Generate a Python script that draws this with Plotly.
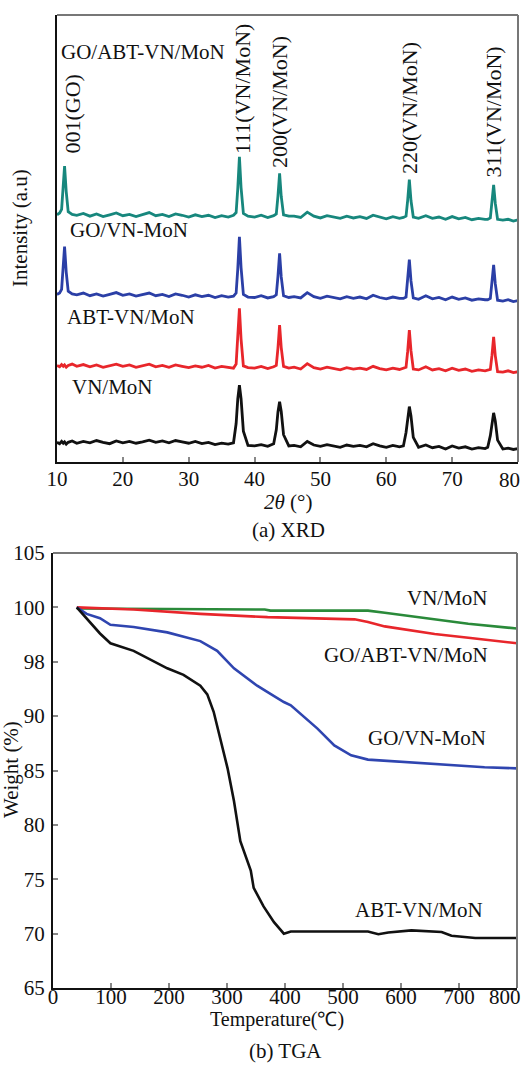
import plotly.graph_objects as go

W, H = 527, 1068
FONT = "Liberation Serif, Times New Roman, serif"

# ---------------- (a) XRD data ----------------
two_theta = [
    10, 10.4, 10.7, 10.95, 11.15, 11.4, 11.7, 12.3,
    13, 14, 15, 16, 17, 18, 19, 20, 21, 22, 23, 24, 25, 26, 27, 28, 29, 30, 31, 32, 33, 34, 35, 36,
    36.8, 37.2, 37.45, 37.7, 37.95, 38.3, 39,
    40, 41, 42,
    42.9, 43.3, 43.55, 43.8, 44.05, 44.4, 45.2,
    46, 47, 48, 49, 50, 51, 52, 53, 54, 55, 56, 57, 58, 59, 60, 61, 62,
    62.6, 63.0, 63.25, 63.5, 63.75, 64.1, 64.9,
    66, 67, 68, 69, 70, 71, 72, 73, 74, 75,
    75.4, 75.8, 76.05, 76.3, 76.55, 76.9, 77.7,
    78.5, 79.3, 80,
]

xrd_vn_mon = [
    4.4, 4.1, 4.6, 4.2, 4.5, 4.0, 4.4, 4.7,
    4.2, 4.6, 4.3, 4.8, 4.4, 4.1, 4.7, 4.3, 4.6, 4.2, 4.5, 4.9, 4.4, 4.7, 4.3, 4.8, 4.5, 4.2, 4.6, 4.1, 4.4, 3.9, 4.2, 4.0,
    4.3, 8.6, 14.1, 17.2, 14.2, 6.9, 3.7,
    3.6, 3.9, 3.5,
    4.1, 7.2, 11.2, 13.5, 11.3, 6.1, 3.6,
    3.7, 3.4, 4.6, 3.8, 3.5, 3.9, 3.6, 3.3, 3.8, 3.5, 3.7, 3.4, 4.1, 3.6, 3.3, 3.7, 3.4,
    3.6, 6.6, 10.3, 12.4, 10.3, 5.5, 3.3,
    3.8, 3.2, 3.5, 2.9, 3.6, 3.1, 3.4, 2.9, 3.2, 3.0,
    3.3, 5.9, 9.1, 11.0, 9.2, 4.9, 2.9,
    3.1, 2.8, 3.0,
]

xrd_abt_vn_mon = [
    21.6, 21.3, 21.8, 21.4, 21.7, 21.2, 21.6, 21.9,
    21.4, 21.8, 21.3, 21.7, 21.2, 21.6, 21.9, 21.4, 21.7, 21.2, 21.5, 21.9, 21.3, 21.6, 21.2, 21.7, 21.4, 21.1, 21.5, 21.2, 21.6, 21.0, 21.4, 21.1,
    21.0, 21.9, 27.3, 34.4, 27.5, 21.5, 21.1,
    21.0, 21.4, 20.9,
    21.3, 21.6, 25.5, 30.6, 25.6, 21.4, 21.0,
    21.2, 20.8, 22.0, 21.1, 20.8, 21.2, 20.9, 20.6, 21.1, 20.8, 21.0, 20.7, 21.4, 20.9, 20.6, 21.0, 20.7,
    20.9, 21.2, 24.8, 29.5, 24.9, 20.8, 20.6,
    21.3, 20.6, 20.9, 20.4, 21.0, 20.5, 20.8, 20.3, 20.6, 20.4,
    20.5, 20.7, 23.9, 28.0, 23.8, 20.2, 20.1,
    20.4, 20.0, 20.2,
]

xrd_go_vn_mon = [
    37.5, 37.8, 38.6, 44.5, 48.2, 42.5, 38.2, 37.6,
    37.4, 37.8, 37.2, 37.6, 37.1, 37.5, 37.9, 37.3, 37.6, 37.1, 37.4, 37.8, 37.2, 37.5, 37.0, 37.6, 37.3, 36.9, 37.4, 37.0, 37.3, 36.8, 37.2, 36.9,
    37.1, 37.8, 43.2, 50.4, 43.5, 37.5, 36.9,
    36.8, 37.2, 36.7,
    37.0, 37.4, 41.5, 46.7, 41.4, 37.2, 36.8,
    37.0, 36.7, 37.9, 37.0, 36.6, 37.1, 36.8, 36.5, 37.0, 36.6, 36.9, 36.5, 37.3, 36.8, 36.5, 36.9, 36.6,
    36.6, 36.9, 40.6, 45.3, 40.5, 36.7, 36.4,
    37.2, 36.5, 36.8, 36.3, 36.9, 36.4, 36.7, 36.2, 36.5, 36.3,
    36.3, 36.6, 39.8, 44.1, 39.9, 36.2, 36.0,
    36.3, 35.9, 36.1,
]

xrd_go_abt_vn_mon = [
    55.3, 55.7, 56.5, 62.0, 66.2, 60.5, 56.0, 55.4,
    55.2, 55.6, 55.0, 55.5, 54.9, 55.3, 55.7, 55.1, 55.4, 54.9, 55.3, 55.8, 55.1, 55.4, 54.9, 55.5, 55.2, 54.8, 55.3, 54.9, 55.2, 54.7, 55.1, 54.8,
    55.2, 55.8, 61.2, 68.3, 61.4, 55.6, 55.0,
    54.8, 55.2, 54.7,
    55.1, 55.5, 59.5, 64.6, 59.4, 55.3, 55.0,
    55.0, 54.7, 55.9, 55.0, 54.6, 55.1, 54.8, 54.5, 55.0, 54.6, 54.9, 54.5, 55.2, 54.8, 54.4, 54.9, 54.5,
    54.7, 55.0, 58.6, 63.2, 58.5, 54.8, 54.5,
    55.1, 54.5, 54.8, 54.3, 54.9, 54.4, 54.7, 54.2, 54.5, 54.3,
    54.3, 54.6, 57.8, 62.0, 57.9, 54.3, 54.1,
    54.3, 53.9, 54.2,
]

xrd_series_names = ["VN/MoN", "ABT-VN/MoN", "GO/VN-MoN", "GO/ABT-VN/MoN"]
xrd_colors = ["#111111", "#e8262b", "#2b3fa6", "#17877d"]
xrd_ticks = [10, 20, 30, 40, 50, 60, 70, 80]
xrd_ticktext = ["10", "20", "30", "40", "50", "60", "70", ""]
xrd_last_tick = "80"
peak_labels = ["001(GO)", "111(VN/MoN)", "200(VN/MoN)", "220(VN/MoN)", "311(VN/MoN)"]

# ---------------- (b) TGA data ----------------
tga_T_vn = [41, 200, 365, 375, 543, 572, 600, 658, 716, 800]
tga_W_vn = [99.9, 99.85, 99.8, 99.7, 99.7, 99.5, 99.3, 98.9, 98.5, 98.05]

tga_T_go_abt = [41, 139, 254, 370, 520, 543, 572, 600, 658, 716, 800]
tga_W_go_abt = [100.0, 99.8, 99.4, 99.1, 98.9, 98.65, 98.25, 98.0, 97.55, 97.2, 96.7]

tga_T_go_vn = [41, 58, 81, 99, 139, 197, 254, 283, 312, 352, 370, 398, 410, 456, 485, 514, 543, 600, 687, 744, 800]
tga_W_go_vn = [100.0, 99.4, 99.0, 98.4, 98.2, 97.7, 96.9, 96.0, 94.4, 92.8, 92.2, 91.3, 91.0, 88.85, 87.3, 86.4, 86.0, 85.8, 85.5, 85.3, 85.2]

tga_T_abt = [41, 58, 81, 99, 139, 197, 225, 254, 266, 277, 301, 312, 323, 341, 346, 363, 381, 398, 410, 543, 561, 578, 600, 618, 670, 687, 728, 800]
tga_W_abt = [100.0, 99.0, 97.6, 96.7, 96.0, 94.4, 93.8, 92.8, 92.0, 90.4, 85.2, 82.2, 78.5, 75.8, 74.2, 72.5, 71.05, 70.0, 70.2, 70.2, 69.95, 70.1, 70.2, 70.3, 70.15, 69.8, 69.6, 69.6]

tga_x_ticks = [0, 100, 200, 300, 400, 500, 600, 700, 800]
tga_x_ticktext = ["0", "100", "200", "300", "400", "500", "600", "700", ""]
tga_last_tick = "800"
tga_y_tickvals = [65, 70, 75, 80, 85, 90, 95, 100, 105]
tga_y_ticktext = ["65", "70", "75", "80", "85", "90", "98", "100", "105"]
tga_colors = {"VN/MoN": "#2a8a3a", "GO/ABT-VN/MoN": "#e8262b", "GO/VN-MoN": "#2f45b0", "ABT-VN/MoN": "#111111"}


def px(x):
    return x / W


def py(y):
    return 1 - y / H


fig = go.Figure()

for name, ys, col in zip(xrd_series_names,
                         [xrd_vn_mon, xrd_abt_vn_mon, xrd_go_vn_mon, xrd_go_abt_vn_mon],
                         xrd_colors):
    fig.add_trace(go.Scatter(x=two_theta, y=ys, mode="lines", name=name,
                             line=dict(color=col, width=2.8), xaxis="x", yaxis="y"))

for name, T, Wt in [("VN/MoN", tga_T_vn, tga_W_vn),
                    ("GO/ABT-VN/MoN", tga_T_go_abt, tga_W_go_abt),
                    ("GO/VN-MoN", tga_T_go_vn, tga_W_go_vn),
                    ("ABT-VN/MoN", tga_T_abt, tga_W_abt)]:
    fig.add_trace(go.Scatter(x=T, y=Wt, mode="lines", name=name,
                             line=dict(color=tga_colors[name], width=2.6), xaxis="x2", yaxis="y2"))

tickfont = dict(family=FONT, size=21, color="#111")
xrd_dom_x = [px(57), px(518)]
xrd_dom_y = [py(462), py(15)]
tga_dom_x = [px(53), px(517)]
tga_dom_y = [py(988), py(553)]

common = dict(showgrid=False, zeroline=False, automargin=False, showline=True,
              linecolor="#111", linewidth=2, ticklabeloverflow="allow")

fig.update_layout(
    template="none",
    width=W, height=H, margin=dict(l=0, r=0, t=0, b=0, pad=0), autosize=False,
    paper_bgcolor="white", plot_bgcolor="white", showlegend=False,
    font=dict(family=FONT, color="#111"),
    xaxis=dict(domain=xrd_dom_x, range=[10, 80], tickvals=xrd_ticks, ticktext=xrd_ticktext,
               ticks="inside", ticklen=5, tickcolor="#888", tickwidth=1.5, tickfont=tickfont,
               anchor="y", ticklabelstandoff=-3, **common),
    yaxis=dict(domain=xrd_dom_y, range=[0, 100], showticklabels=False, ticks="",
               anchor="x", **common),
    xaxis2=dict(domain=tga_dom_x, range=[0, 800], tickvals=tga_x_ticks, ticktext=tga_x_ticktext,
                ticks="inside", ticklen=5, tickcolor="#888", tickwidth=1.5, tickfont=tickfont,
                anchor="y2", ticklabelstandoff=-11, **common),
    yaxis2=dict(domain=tga_dom_y, range=[65, 105], tickvals=tga_y_tickvals,
                ticktext=tga_y_ticktext, ticks="inside", ticklen=5, tickcolor="#888",
                tickwidth=1.5, tickfont=tickfont, anchor="x2", ticklabelstandoff=2, **common),
)

# grey top/right frame lines
for dx, dy in [(xrd_dom_x, xrd_dom_y), (tga_dom_x, tga_dom_y)]:
    fig.add_shape(type="line", xref="paper", yref="paper", x0=dx[0], x1=dx[1], y0=dy[1], y1=dy[1],
                  line=dict(color="#777", width=2))
    fig.add_shape(type="line", xref="paper", yref="paper", x0=dx[1], x1=dx[1], y0=dy[0], y1=dy[1],
                  line=dict(color="#777", width=2))


def ann(text, x, y, size=21, xanchor="center", yanchor="middle", angle=0):
    fig.add_annotation(text=text, x=px(x), y=py(y), xref="paper", yref="paper",
                       showarrow=False, xanchor=xanchor, yanchor=yanchor, textangle=angle,
                       borderpad=0, font=dict(family=FONT, size=size, color="#111"))


# last tick labels, nudged left so they stay inside the page like the reference
ann(xrd_last_tick, 521, 480, size=21, xanchor="right")
ann(tga_last_tick, 522, 997, size=21, xanchor="right")

# XRD labels
ann(xrd_series_names[3], 60, 52, size=21, xanchor="left")
ann(xrd_series_names[2], 69, 230, size=21, xanchor="left")
ann(xrd_series_names[1], 66, 317, size=21, xanchor="left")
ann(xrd_series_names[0], 71, 387, size=21, xanchor="left")
for lab, x, yb in zip(peak_labels, [72, 243, 279, 409, 493], [155, 155, 169, 175, 179]):
    ann(lab, x, yb, size=22, yanchor="bottom", angle=-90)
ann("Intensity (a.u)", 20, 228, size=21, angle=-90)
ann("<i>2θ</i> (°)", 288, 502, size=21)
ann("(a) XRD", 288, 530, size=21)

# TGA labels
ann("VN/MoN", 447, 598, size=21)
ann("GO/ABT-VN/MoN", 406, 655, size=21)
ann("GO/VN-MoN", 427, 738, size=21)
ann("ABT-VN/MoN", 419, 910, size=21)
ann("Weight (%)", 11, 770, size=21, angle=-90)
ann("Temperature(℃)", 277, 1019, size=20)
ann("(b) TGA", 285, 1051, size=21)

fig.write_html("out.html")
